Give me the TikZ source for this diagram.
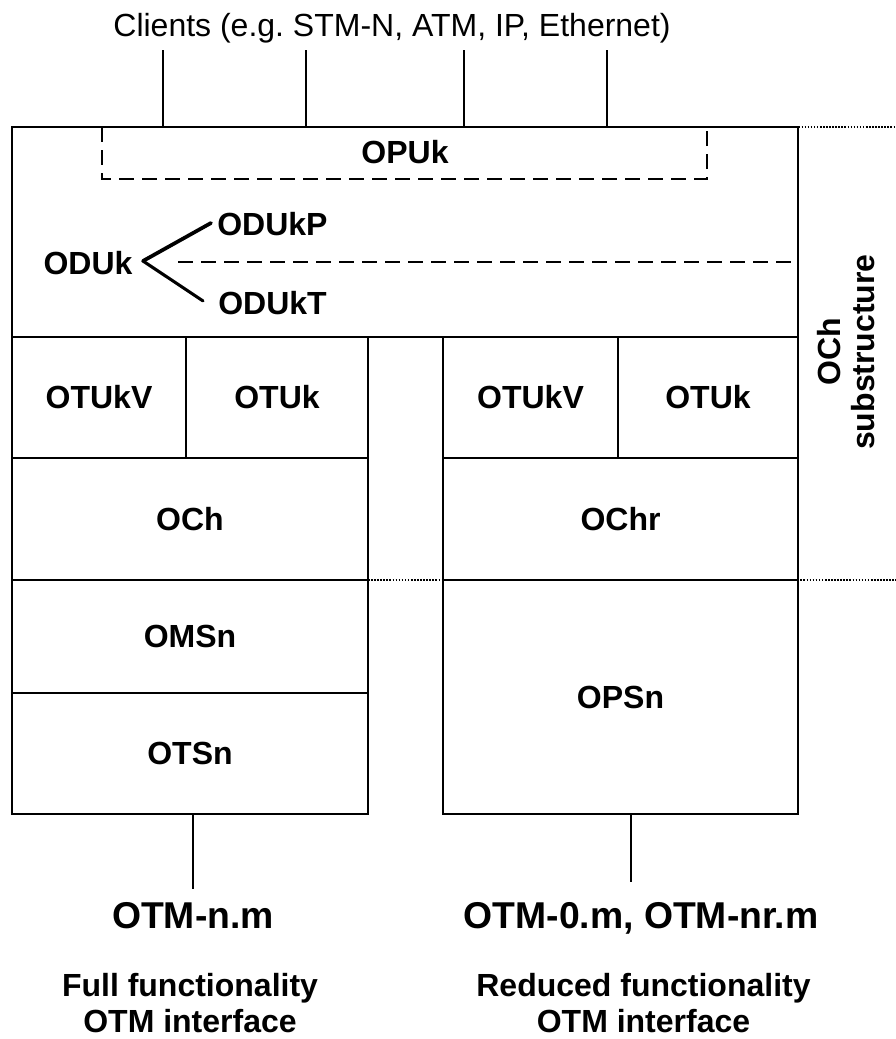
\documentclass[tikz,border=0pt]{standalone}
\usepackage{fontspec}
\setmainfont{Liberation Sans}
\frenchspacing
\begin{document}
\begin{tikzpicture}[x=0.75pt,y=-0.75pt,
  boxline/.style={line width=1.75pt},
  thinline/.style={line width=1.6pt},
  dashline/.style={line width=2pt, dash pattern=on 11.25pt off 6pt},
  dotline/.style={line width=1.3pt, dash pattern=on 1.2pt off 1.1pt},
  branch/.style={line width=2.8pt, line cap=round},
  lbl/.style={font=\fontsize{24}{26}\selectfont\bfseries, inner sep=0pt},
  biglbl/.style={font=\fontsize{28}{32}\selectfont\bfseries, inner sep=0pt},
  plainlbl/.style={font=\fontsize{24}{28}\selectfont, inner sep=0pt}]
\useasboundingbox (0,0) rectangle (896,1039);

% dotted guide lines (OCh substructure extent)
\coordinate (dotA1) at (777,127);
\coordinate (dotA2) at (896,127);
\coordinate (dotB1) at (368,580);
\coordinate (dotB2) at (896,580);
\draw[dotline] (dotA1) -- (dotA2);
\draw[dotline] (dotB1) -- (dotB2);

% clients
\node[plainlbl, anchor=base] (clients) at (392,36) {Clients (e.g. STM-N, ATM, IP, Ethernet)};
\foreach \i/\x in {1/163,2/306,3/464,4/607}{
  \coordinate (ct\i) at (\x,50);
  \coordinate (cb\i) at (\x,127);
  \draw[thinline] (ct\i) -- (cb\i);
}

% upper box (ODUk / OPUk)
\draw[boxline] (12,127) rectangle (798,337);
\draw[dashline] (102,127) -- (102,179) -- (707,179) -- (707,127);
\node[lbl] (opuk) at (405,152) {OPUk};
\node[lbl] (oduk) at (88,263) {ODUk};
\node[lbl, anchor=west] (odukp) at (217,224) {ODUkP};
\node[lbl, anchor=west] (odukt) at (218,303.5) {ODUkT};
\coordinate (fork) at (143,261);
\draw[branch] (fork) -- ([xshift=-4.5pt,yshift=0.75pt]odukp.west);
\draw[branch, line width=2.3pt] (fork) -- ([xshift=-11.25pt,yshift=1.9pt]odukt.west);
\coordinate (dstart) at (178,262);
\coordinate (dend) at (798,262);
\draw[dashline] (dstart) -- (dend);

% left column
\draw[boxline] (12,337) rectangle (368,814);
\draw[boxline] (12,458) -- (368,458);
\draw[boxline] (12,580) -- (368,580);
\draw[boxline] (12,693) -- (368,693);
\draw[boxline] (186,337) -- (186,458);
\node[lbl] (otukvL) at (99,397.5) {OTUkV};
\node[lbl] (otukL) at (277,397.5) {OTUk};
\node[lbl] (och) at (190,519) {OCh};
\node[lbl] (omsn) at (190,636.5) {OMSn};
\node[lbl] (otsn) at (190,753.5) {OTSn};

% right column
\draw[boxline] (443,337) rectangle (798,814);
\draw[boxline] (443,458) -- (798,458);
\draw[boxline] (443,580) -- (798,580);
\draw[boxline] (618,337) -- (618,458);
\node[lbl] (otukvR) at (530.5,397.5) {OTUkV};
\node[lbl] (otukR) at (708,397.5) {OTUk};
\node[lbl] (ochr) at (620.5,519) {OChr};
\node[lbl] (opsn) at (620.5,697) {OPSn};

% OCh substructure label
\node[lbl, rotate=90, align=center] (substr) at (846,352) {OCh\\substructure};

% interfaces
\coordinate (lt) at (193,814);
\coordinate (rt) at (631,814);
\node[biglbl, anchor=base] (otmn) at (193,928) {OTM-n.m};
\node[biglbl, anchor=base] (otmr) at (641,928) {OTM-0.m, OTM-nr.m};
\coordinate (lb) at (193,889);
\coordinate (rb) at (631,882);
\draw[thinline] (lt) -- (lb);
\draw[thinline] (rt) -- (rb);
\node[lbl, align=center, font=\fontsize{24}{27}\selectfont\bfseries] (fullf) at (190,1003) {Full functionality\\OTM interface};
\node[lbl, align=center, font=\fontsize{24}{27}\selectfont\bfseries] (redf) at (643.5,1003) {Reduced functionality\\OTM interface};
\end{tikzpicture}
\end{document}
